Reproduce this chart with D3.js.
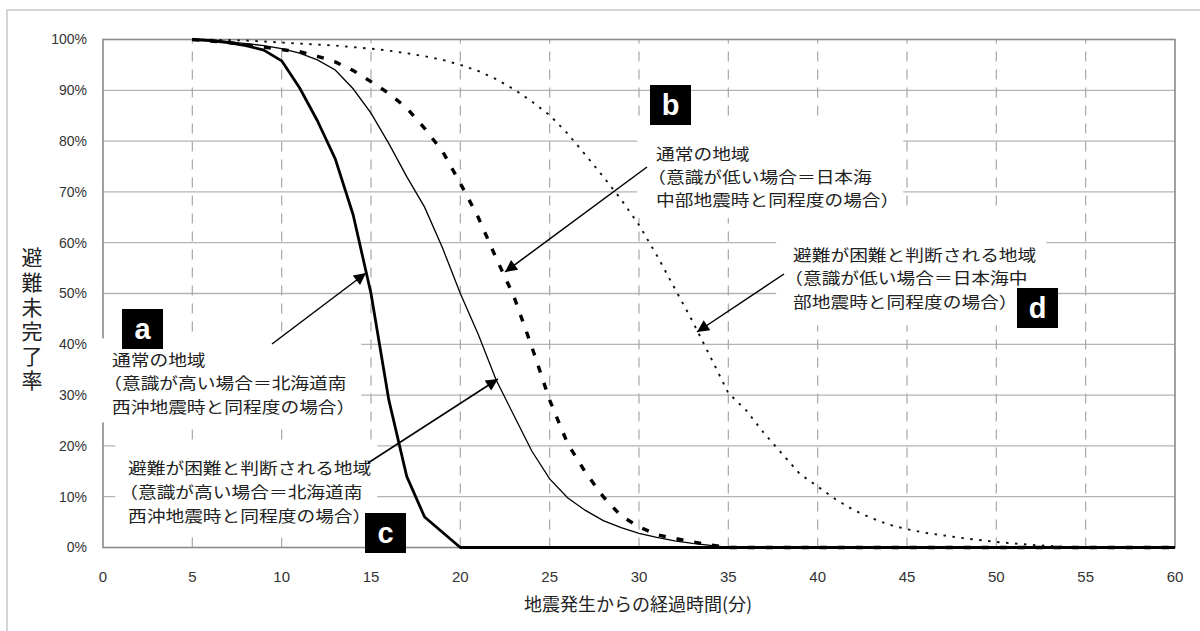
<!DOCTYPE html>
<html>
<head>
<meta charset="utf-8">
<script src="https://cdn.jsdelivr.net/npm/d3@7"></script>
<style>
  body { margin: 0; background: #fff; }
  svg { display: block; }
  .jp { font-family: "Noto Sans CJK JP", sans-serif; fill: #222; }
  .tick-label { font-family: "Liberation Sans", Arial, sans-serif; fill: #333; }
</style>
</head>
<body>
<div id="chart"></div>
<script>
// minutes after the earthquake
const minutes = [5, 6, 7, 8, 9, 10, 11, 12, 13, 14, 15, 16, 17, 18, 19, 20,
  21, 22, 23, 24, 25, 26, 27, 28, 29, 30, 31, 32, 33, 34, 35, 36, 37, 38, 39, 40,
  41, 42, 43, 44, 45, 46, 47, 48, 49, 50, 51, 52, 53, 54, 55, 56, 57, 58, 59, 60];

// a: normal area, high awareness (thick solid)
const normalHigh = [100, 99.8, 99.4, 98.8, 97.9, 95.8, 90.5, 84, 76.5, 65.5, 50, 29, 14, 6, 3, 0,
  0, 0, 0, 0, 0, 0, 0, 0, 0, 0, 0, 0, 0, 0, 0, 0, 0, 0, 0, 0,
  0, 0, 0, 0, 0, 0, 0, 0, 0, 0, 0, 0, 0, 0, 0, 0, 0, 0, 0, 0];

// b: normal area, low awareness (thick dashed)
const normalLow = [100, 99.7, 99.4, 99, 98.5, 98, 97.6, 96.7, 95.6, 93.9, 91.7, 89.4, 86.5, 82.5, 78, 71.7,
  65, 57, 49.4, 39.5, 29, 20.5, 14.8, 10, 6.2, 4.1, 2.5, 1.8, 1.1, 0.5, 0, 0, 0, 0, 0, 0,
  0, 0, 0, 0, 0, 0, 0, 0, 0, 0, 0, 0, 0, 0, 0, 0, 0, 0, 0, 0];

// c: difficult area, high awareness (thin solid)
const hardHigh = [100, 99.9, 99.6, 99.2, 98.8, 98.2, 97.3, 96, 94, 90.3, 85.5, 79.5, 73, 67, 59, 50,
  42, 33, 26, 19, 13.5, 9.8, 7.3, 5.3, 3.9, 2.8, 2, 1.3, 0.8, 0.4, 0, 0, 0, 0, 0, 0,
  0, 0, 0, 0, 0, 0, 0, 0, 0, 0, 0, 0, 0, 0, 0, 0, 0, 0, 0, 0];

// d: difficult area, low awareness (dotted)
const hardLow = [100, 99.95, 99.9, 99.8, 99.6, 99.4, 99.2, 99, 98.8, 98.5, 98.2, 97.8, 97.3, 96.7, 96, 95,
  93.8, 92.2, 90.2, 87.8, 85.1, 81.5, 77.3, 73, 68.5, 63.5, 57.5, 51, 44.5, 37.5, 30.4, 27, 22.5, 18.5, 14.5, 12,
  9.5, 7.4, 5.8, 4.5, 3.6, 2.9, 2.4, 1.9, 1.5, 1.1, 0.8, 0.5, 0.3, 0.1, 0, 0, 0, 0, 0, 0];

const xTicks = [0, 5, 10, 15, 20, 25, 30, 35, 40, 45, 50, 55, 60];
const yTicks = [0, 10, 20, 30, 40, 50, 60, 70, 80, 90, 100];
const yTitle = "避難未完了率";
const xTitle = "地震発生からの経過時間(分)";

const notes = [
  { key: "a", lines: ["通常の地域", "（意識が高い場合＝北海道南", "西沖地震時と同程度の場合）"] },
  { key: "b", lines: ["通常の地域", "（意識が低い場合＝日本海", "中部地震時と同程度の場合）"] },
  { key: "c", lines: ["避難が困難と判断される地域", "（意識が高い場合＝北海道南", "西沖地震時と同程度の場合）"] },
  { key: "d", lines: ["避難が困難と判断される地域", "（意識が低い場合＝日本海中", "部地震時と同程度の場合）"] }
];

const width = 1200, height = 631;
const svg = d3.select("#chart").append("svg")
  .attr("width", width).attr("height", height);

// outer light frame
svg.append("rect")
  .attr("x", 7).attr("y", 10).attr("width", 1210).attr("height", 640)
  .attr("fill", "none").attr("stroke", "#c8c8c8").attr("stroke-width", 1.5);

const x = d3.scaleLinear().domain([0, 60]).range([103, 1175]);
const y = d3.scaleLinear().domain([0, 100]).range([547.5, 39.5]);

// grid
svg.append("g").selectAll("line")
  .data(yTicks.filter(d => d > 0 && d < 100))
  .join("line")
  .attr("x1", x(0)).attr("x2", x(60))
  .attr("y1", d => y(d)).attr("y2", d => y(d))
  .attr("stroke", "#b4b4b4").attr("stroke-width", 1.3);

svg.append("g").selectAll("line")
  .data(xTicks.filter(d => d > 0 && d < 60))
  .join("line")
  .attr("x1", d => x(d)).attr("x2", d => x(d))
  .attr("y1", y(0)).attr("y2", y(100))
  .attr("stroke", "#a8a8a8").attr("stroke-width", 1.2)
  .attr("stroke-dasharray", "10,8");

// plot frame
svg.append("rect")
  .attr("x", x(0)).attr("y", y(100))
  .attr("width", x(60) - x(0)).attr("height", y(0) - y(100))
  .attr("fill", "none").attr("stroke", "#8a8a8a").attr("stroke-width", 1.6);

// white boxes behind the notes (filled in later once text is measured)
const maskLayer = svg.append("g");
const curveLayer = svg.append("g");
const noteLayer = svg.append("g");

const line = d3.line()
  .x((d, i) => x(minutes[i]))
  .y(d => y(d));

curveLayer.append("path").datum(hardLow)
  .attr("d", line).attr("fill", "none")
  .attr("stroke", "#111").attr("stroke-width", 1.9)
  .attr("stroke-dasharray", "2.5,6.5");

curveLayer.append("path").datum(normalLow)
  .attr("d", line).attr("fill", "none")
  .attr("stroke", "#000").attr("stroke-width", 3.4)
  .attr("stroke-dasharray", "7,11");

curveLayer.append("path").datum(hardHigh)
  .attr("d", line).attr("fill", "none")
  .attr("stroke", "#000").attr("stroke-width", 1.3);

curveLayer.append("path").datum(normalHigh)
  .attr("d", line).attr("fill", "none")
  .attr("stroke", "#000").attr("stroke-width", 2.8)
  .attr("stroke-linejoin", "round");

// tick labels
svg.append("g").selectAll("text")
  .data(yTicks)
  .join("text")
  .attr("class", "tick-label")
  .attr("x", 87).attr("y", d => y(d))
  .attr("dy", "0.35em").attr("text-anchor", "end")
  .attr("font-size", 14)
  .text(d => d + "%");

svg.append("g").selectAll("text")
  .data(xTicks)
  .join("text")
  .attr("class", "tick-label")
  .attr("x", d => x(d)).attr("y", 577)
  .attr("dy", "0.35em").attr("text-anchor", "middle")
  .attr("font-size", 15)
  .text(d => d);

// axis titles (vertical one as a single text)
svg.append("text")
  .attr("class", "jp")
  .attr("x", 32).attr("y", 247)
  .style("writing-mode", "vertical-rl")
  .style("letter-spacing", "3.6px")
  .attr("font-size", 21)
  .text(yTitle);

svg.append("text")
  .attr("class", "jp")
  .attr("x", 638).attr("y", 605)
  .attr("dy", "0.36em").attr("text-anchor", "middle")
  .attr("font-size", 18)
  .text(xTitle);

// notes: text position, line gap, mask padding [l, t, r, b], letter box, arrow
const noteLayout = {
  a: { x: 112, y: 360, gap: 23.5, pad: [4, 9, 6, 5], box: [122, 309], arrow: [[272, 344], [366, 273]] },
  b: { x: 656, y: 154, gap: 23.3, pad: [10, 19, 4, 7], box: [650, 85], arrow: [[647, 167], [505, 272]] },
  c: { x: 128, y: 468, gap: 24, pad: [4, 11, 6, 5], box: [365, 513], arrow: [[368, 463], [498, 379]] },
  d: { x: 793, y: 255, gap: 23.5, pad: [8, 31, 10, 13], box: [1017, 288], arrow: [[784, 274], [697, 332]] }
};
const noteFont = 16, stretch = 1.17;

const defs = svg.append("defs");
defs.append("marker")
  .attr("id", "head")
  .attr("viewBox", "0 0 10 10")
  .attr("refX", 10).attr("refY", 5)
  .attr("markerUnits", "userSpaceOnUse")
  .attr("markerWidth", 15).attr("markerHeight", 12)
  .attr("orient", "auto")
  .append("path")
  .attr("d", "M0,0L10,5L0,10Z")
  .attr("fill", "#000");

notes.forEach(n => {
  const L = noteLayout[n.key];
  // original font is wide, so stretch horizontally
  const g = noteLayer.append("g")
    .attr("transform", `translate(${L.x},0) scale(${stretch},1)`);
  const t = g.append("text")
    .attr("class", "jp")
    .attr("font-size", noteFont);
  t.selectAll("tspan")
    .data(n.lines)
    .join("tspan")
    .attr("x", d => d.startsWith("（") ? -7.5 : 0)
    .attr("y", (d, i) => L.y + i * L.gap)
    .attr("dy", "0.36em")
    .text(d => d);

  const bb = t.node().getBBox();
  maskLayer.append("rect")
    .attr("x", L.x + bb.x * stretch - L.pad[0]).attr("y", bb.y - L.pad[1])
    .attr("width", bb.width * stretch + L.pad[0] + L.pad[2])
    .attr("height", bb.height + L.pad[1] + L.pad[3])
    .attr("fill", "#fff");

  noteLayer.append("line")
    .attr("x1", L.arrow[0][0]).attr("y1", L.arrow[0][1])
    .attr("x2", L.arrow[1][0]).attr("y2", L.arrow[1][1])
    .attr("stroke", "#000").attr("stroke-width", 1.5)
    .attr("marker-end", "url(#head)");

  // black letter badge
  noteLayer.append("rect")
    .attr("x", L.box[0]).attr("y", L.box[1])
    .attr("width", 41).attr("height", 40)
    .attr("fill", "#000");
  noteLayer.append("text")
    .attr("x", L.box[0] + 20.5).attr("y", L.box[1] + 20)
    .attr("dy", "0.36em").attr("text-anchor", "middle")
    .attr("font-family", "Liberation Sans, Arial, sans-serif")
    .attr("font-weight", "bold").attr("font-size", 29)
    .attr("fill", "#fff")
    .text(n.key);
});
</script>
</body>
</html>
